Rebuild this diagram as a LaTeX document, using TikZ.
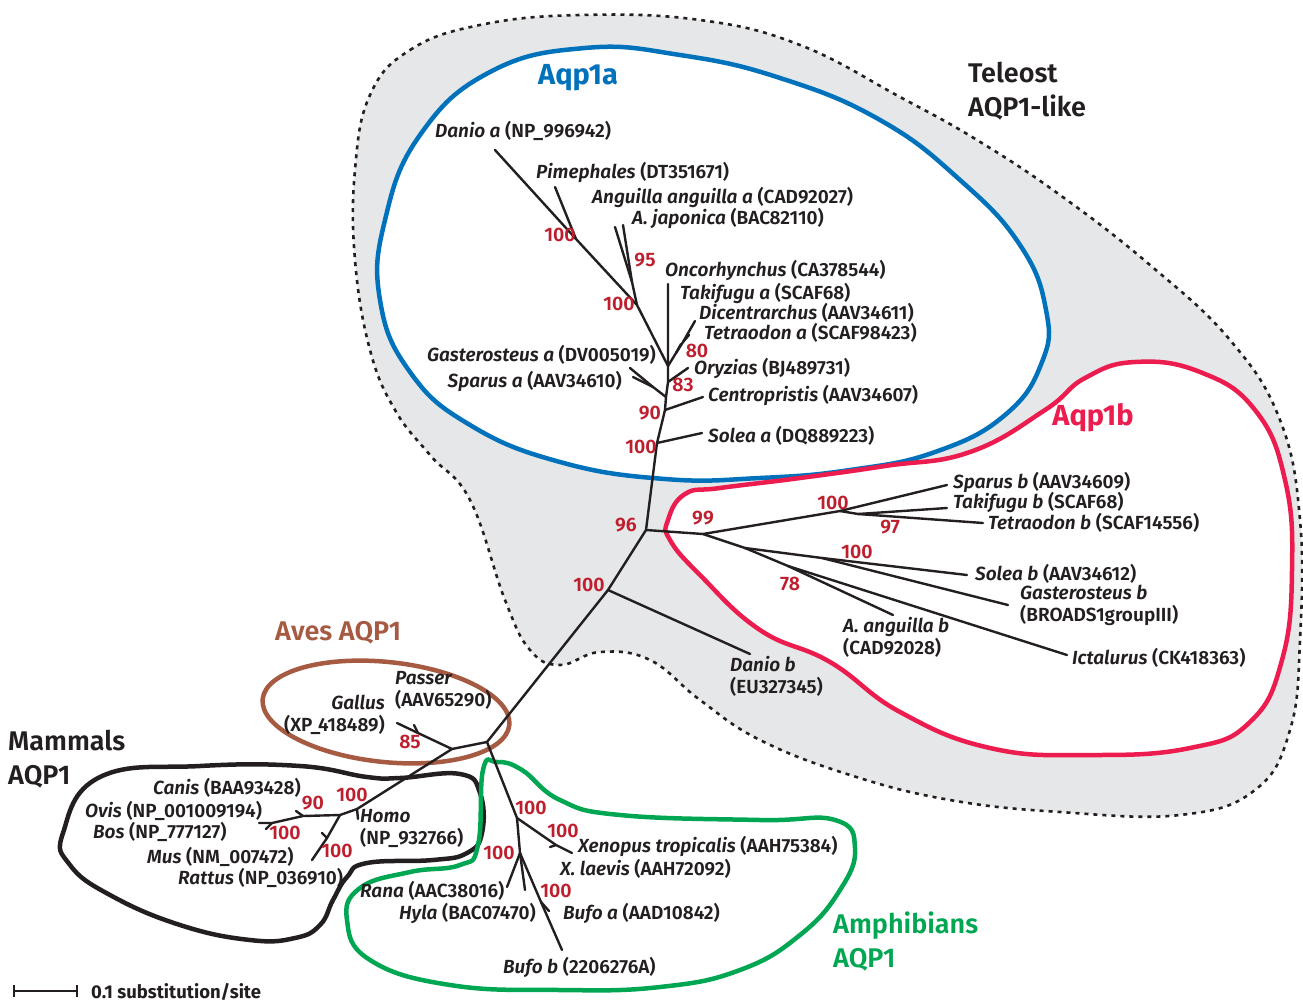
\documentclass[tikz,border=0pt]{standalone}
\usepackage{fontspec}
\setmainfont{Fira Sans}[UprightFont={* SemiBold},ItalicFont={* SemiBold Italic},BoldFont={* Bold},BoldItalicFont={* Bold Italic}]
\definecolor{ink}{HTML}{231F20}
\definecolor{bootred}{HTML}{BE1E2D}
\definecolor{aqpblue}{HTML}{0072BC}
\definecolor{aqpred}{HTML}{EC1C4F}
\definecolor{avesbrown}{HTML}{A65A42}
\definecolor{ampgreen}{HTML}{00A651}
\definecolor{telgray}{HTML}{E6E7E8}
\newcommand{\tx}[2]{\textit{#1} (#2)}
\tikzset{
  branch/.style={line width=2.4pt, line cap=round, draw=ink},
  taxlbl/.style={inner sep=0pt, text=ink, font=\fontsize{19}{22}\selectfont, align=left},
  boot/.style={inner sep=0pt, text=bootred, font=\fontsize{19.5}{22}\selectfont},
  grplbl/.style={inner sep=0pt, font=\fontsize{27}{34}\selectfont, align=left},
  clade/.style={line width=4.5pt, smooth cycle, tension=0.75}
}
\begin{document}
\begin{tikzpicture}[x=1pt, y=-1pt]
  \useasboundingbox (0,0) rectangle (1303,1004);

  % Teleost AQP1-like area
  \filldraw[fill=telgray, draw=ink, line width=2.6pt, dash pattern=on 4pt off 5pt]
    plot[smooth cycle, tension=0.7] coordinates {(370,95) (410,50) (480,25) (580,15) (700,20) (800,45) (900,97) (977,140) (1060,195) (1150,265) (1230,340) (1280,420) (1300,520) (1300,640) (1290,730) (1255,790) (1180,815) (1060,812) (950,800) (850,775) (760,740) (700,700) (650,660) (600,652) (560,665) (530,650) (505,600) (470,500) (430,455) (395,410) (370,350) (355,260) (355,170)};

  % clade outlines
  \filldraw[clade, draw=aqpblue, fill=white] plot coordinates {(585,48) (680,55) (780,78) (880,120) (960,180) (1020,245) (1046,310) (1042,362) (1005,415) (935,452) (850,470) (760,478) (665,479) (560,462) (470,425) (410,372) (380,300) (385,220) (420,135) (490,72)};
  \filldraw[clade, draw=aqpred, fill=white] plot coordinates {(668,520) (685,494) (720,488) (800,478) (885,466) (970,452) (1045,410) (1085,378) (1135,362) (1200,372) (1255,410) (1285,480) (1292,570) (1282,660) (1250,722) (1190,748) (1090,755) (990,748) (900,712) (830,662) (760,630) (700,575) (670,540)};
  \draw[line width=4.5pt, draw=avesbrown, rotate around={-6:(386,712)}] (386,712) ellipse [x radius=124pt, y radius=50pt];
  \draw[clade, draw=ink] plot coordinates {(100,777) (200,766) (300,766) (367,777) (400,778) (460,774) (480,793) (482,833) (467,853) (433,860) (367,863) (347,877) (333,900) (320,925) (295,938) (250,940) (180,925) (110,895) (70,865) (63,833)};
  \draw[clade, draw=ampgreen] plot coordinates {(483,770) (497,762) (522,770) (560,800) (620,815) (760,820) (835,820) (855,848) (840,890) (800,935) (740,970) (660,987) (560,990) (450,985) (370,960) (347,920) (360,888) (410,872) (460,865) (478,845)};

  % backbone
  \coordinate (root) at (487,742);
  \coordinate (nTel) at (608,590);
  \coordinate (nFish) at (646,530);
  \coordinate (tDaniob) at (750,654);
  \coordinate (nAmn) at (452,749);
  \draw[branch] (root) -- (nTel) -- (nFish);
  \draw[branch] (nTel) -- (tDaniob);
  \draw[branch] (root) -- (nAmn);

  % birds
  \coordinate (nAves) at (418,733);
  \coordinate (tGallus) at (397,723);
  \coordinate (tPasser) at (414,725);
  \draw[branch] (nAmn) -- (nAves) -- (tGallus);
  \draw[branch] (nAves) -- (tPasser);

  % mammals
  \coordinate (nMam) at (357,809);
  \coordinate (tHomo) at (358,819);
  \coordinate (nMam2) at (340,815);
  \coordinate (nCan) at (303,816);
  \coordinate (tCanis) at (296,811);
  \coordinate (nRum) at (272,823);
  \coordinate (tOvis) at (259,823);
  \coordinate (tBos) at (266,829);
  \coordinate (nRod) at (327,838);
  \coordinate (tMus) at (322,833);
  \coordinate (tRattus) at (312,860);
  \draw[branch] (nAmn) -- (nMam) -- (nMam2) -- (nCan) -- (nRum) -- (tOvis);
  \draw[branch] (nMam) -- (tHomo);
  \draw[branch] (nCan) -- (tCanis);
  \draw[branch] (nRum) -- (tBos);
  \draw[branch] (nMam2) -- (nRod) -- (tRattus);
  \draw[branch] (nRod) -- (tMus);

  % amphibians
  \coordinate (nAmp) at (517,818);
  \coordinate (nXen) at (556,845);
  \coordinate (tXtrop) at (572,853);
  \coordinate (tXlae) at (550,847);
  \coordinate (nFrog) at (520,853);
  \coordinate (tRana) at (507,887);
  \coordinate (tHyla) at (525,890);
  \coordinate (nBufo) at (541,902);
  \coordinate (tBufoa) at (549,911);
  \coordinate (tBufob) at (562,950);
  \draw[branch] (root) -- (nAmp) -- (nXen) -- (tXtrop);
  \draw[branch] (nXen) -- (tXlae);
  \draw[branch] (nAmp) -- (nFrog) -- (tRana);
  \draw[branch] (nFrog) -- (tHyla);
  \draw[branch] (nFrog) -- (nBufo) -- (tBufob);
  \draw[branch] (nBufo) -- (tBufoa);

  % Aqp1a
  \coordinate (a1) at (657,443);
  \coordinate (a2) at (665,410);
  \coordinate (a3) at (666,397);
  \coordinate (a4) at (668,382);
  \coordinate (a5) at (668,366);
  \coordinate (nGS) at (653,387);
  \coordinate (f1) at (676,353);
  \coordinate (f2) at (683,342);
  \coordinate (p1) at (637,305);
  \coordinate (p2) at (576,239);
  \coordinate (p3) at (632,282);
  \coordinate (tSoleaa) at (702,433);
  \coordinate (tCentro) at (703,397);
  \coordinate (tGasta) at (630,368);
  \coordinate (tSparusa) at (633,377);
  \coordinate (tOryz) at (688,368);
  \coordinate (tOnco) at (668,284);
  \coordinate (tDicen) at (695,321);
  \coordinate (tTakia) at (681,344);
  \coordinate (tTetra) at (689,335);
  \coordinate (tDanioa) at (495,150);
  \coordinate (tPime) at (555,187);
  \coordinate (tAngua) at (615,227);
  \coordinate (tJapon) at (623,225);
  \draw[branch] (nFish) -- (a1) -- (a2) -- (a3) -- (a4) -- (a5) -- (tOnco);
  \draw[branch] (a1) -- (tSoleaa);
  \draw[branch] (a2) -- (tCentro);
  \draw[branch] (a3) -- (nGS) -- (tGasta);
  \draw[branch] (nGS) -- (tSparusa);
  \draw[branch] (a4) -- (tOryz);
  \draw[branch] (a5) -- (f1) -- (f2) -- (tDicen);
  \draw[branch] (f1) -- (tTakia);
  \draw[branch] (f2) -- (tTetra);
  \draw[branch] (a5) -- (p1) -- (p2) -- (tDanioa);
  \draw[branch] (p2) -- (tPime);
  \draw[branch] (p1) -- (p3) -- (tAngua);
  \draw[branch] (p3) -- (tJapon);

  % Aqp1b
  \coordinate (b0) at (703,534);
  \coordinate (b1) at (840,511);
  \coordinate (b2) at (858,514);
  \coordinate (b3) at (745,548);
  \coordinate (b4) at (822,558);
  \coordinate (b5) at (788,566);
  \coordinate (tSparusb) at (947,485);
  \coordinate (tTakib) at (947,508);
  \coordinate (tTetrb) at (983,523);
  \coordinate (tSoleab) at (967,575);
  \coordinate (tGastb) at (1008,605);
  \coordinate (tAngub) at (893,615);
  \coordinate (tIctal) at (1067,655);
  \draw[branch] (nFish) -- (b0) -- (b1) -- (tSparusb);
  \draw[branch] (b1) -- (b2) -- (tTakib);
  \draw[branch] (b2) -- (tTetrb);
  \draw[branch] (b0) -- (b3) -- (b4) -- (tSoleab);
  \draw[branch] (b4) -- (tGastb);
  \draw[branch] (b3) -- (b5) -- (tAngub);
  \draw[branch] (b5) -- (tIctal);

  % taxon labels
  \node[taxlbl, anchor=west] (lDanioa) at (435,131) {\tx{Danio a}{NP\_996942}};
  \node[taxlbl, anchor=west] (lPime) at (536,172) {\tx{Pimephales}{DT351671}};
  \node[taxlbl, anchor=west] (lAngua) at (592,197) {\tx{Anguilla anguilla a}{CAD92027}};
  \node[taxlbl, anchor=west] (lJapon) at (632,218) {\tx{A. japonica}{BAC82110}};
  \node[taxlbl, anchor=west] (lOnco) at (665,270) {\tx{Oncorhynchus}{CA378544}};
  \node[taxlbl, anchor=west] (lTakia) at (680,293) {\tx{Takifugu a}{SCAF68}};
  \node[taxlbl, anchor=west] (lDicen) at (699,313) {\tx{Dicentrarchus}{AAV34611}};
  \node[taxlbl, anchor=west] (lTetra) at (704,333) {\tx{Tetraodon a}{SCAF98423}};
  \node[taxlbl, anchor=east] (lGasta) at (656,355) {\tx{Gasterosteus a}{DV005019}};
  \node[taxlbl, anchor=east] (lSparusa) at (622,381) {\tx{Sparus a}{AAV34610}};
  \node[taxlbl, anchor=west] (lOryz) at (694,368) {\tx{Oryzias}{BJ489731}};
  \node[taxlbl, anchor=west] (lCentro) at (708,395) {\tx{Centropristis}{AAV34607}};
  \node[taxlbl, anchor=west] (lSoleaa) at (708,436) {\tx{Solea a}{DQ889223}};
  \node[taxlbl, anchor=west] (lSparusb) at (953,482) {\tx{Sparus b}{AAV34609}};
  \node[taxlbl, anchor=west] (lTakib) at (953,502) {\tx{Takifugu b}{SCAF68}};
  \node[taxlbl, anchor=west] (lTetrb) at (988,523) {\tx{Tetraodon b}{SCAF14556}};
  \node[taxlbl, anchor=west] (lSoleab) at (975,574) {\tx{Solea b}{AAV34612}};
  \node[taxlbl, anchor=north west] (lGastb) at (1020,585) {\textit{Gasterosteus b}\\(BROADS1groupIII)};
  \node[taxlbl, anchor=north west] (lAngub) at (843,617) {\textit{A. anguilla b}\\(CAD92028)};
  \node[taxlbl, anchor=west] (lIctal) at (1072,658) {\tx{Ictalurus}{CK418363}};
  \node[taxlbl, anchor=north west] (lDaniob) at (730,656) {\textit{Danio b}\\(EU327345)};
  \node[taxlbl, anchor=north west] (lPasser) at (395,671) {\textit{Passer}\\(AAV65290)};
  \node[taxlbl, anchor=north east, align=right] (lGallus) at (385,695) {\textit{Gallus}\\(XP\_418489)};
  \node[taxlbl, anchor=west] (lCanis) at (153,788) {\tx{Canis}{BAA93428}};
  \node[taxlbl, anchor=west] (lOvis) at (85,811) {\tx{Ovis}{NP\_001009194}};
  \node[taxlbl, anchor=west] (lBos) at (93,832) {\tx{Bos}{NP\_777127}};
  \node[taxlbl, anchor=west] (lMus) at (147,857) {\tx{Mus}{NM\_007472}};
  \node[taxlbl, anchor=west] (lRattus) at (178,878) {\tx{Rattus}{NP\_036910}};
  \node[taxlbl, anchor=north west] (lHomo) at (360,809) {\textit{Homo}\\(NP\_932766)};
  \node[taxlbl, anchor=west] (lXtrop) at (578,846) {\tx{Xenopus tropicalis}{AAH75384}};
  \node[taxlbl, anchor=west] (lXlae) at (560,869) {\tx{X. laevis}{AAH72092}};
  \node[taxlbl, anchor=west] (lRana) at (360,891) {\tx{Rana}{AAC38016}};
  \node[taxlbl, anchor=west] (lHyla) at (399,913) {\tx{Hyla}{BAC07470}};
  \node[taxlbl, anchor=west] (lBufoa) at (563,913) {\tx{Bufo a}{AAD10842}};
  \node[taxlbl, anchor=west] (lBufob) at (503,967) {\tx{Bufo b}{2206276A}};

  % bootstrap values
  \node[boot] (bP2) at (560,235) {100};
  \node[boot] (bP3) at (645,260) {95};
  \node[boot] (bP1) at (619,304) {100};
  \node[boot] (bF1) at (697,351) {80};
  \node[boot] (bA4) at (683,385) {83};
  \node[boot] (bA2) at (650,413) {90};
  \node[boot] (bA1) at (641,447) {100};
  \node[boot] (bFish) at (626,525) {96};
  \node[boot] (bTel) at (589,585) {100};
  \node[boot] (bB0) at (703,518) {99};
  \node[boot] (bB1) at (833,503) {100};
  \node[boot] (bB2) at (890,527) {97};
  \node[boot] (bB4) at (857,552) {100};
  \node[boot] (bB5) at (790,584) {78};
  \node[boot] (bAves) at (410,742) {85};
  \node[boot] (bCan) at (313,803) {90};
  \node[boot] (bMam) at (352,795) {100};
  \node[boot] (bRum) at (285,833) {100};
  \node[boot] (bRod) at (337,851) {100};
  \node[boot] (bAmp) at (531,808) {100};
  \node[boot] (bXen) at (563,831) {100};
  \node[boot] (bFrog) at (499,853) {100};
  \node[boot] (bBufo) at (556,891) {100};

  % group labels
  \node[grplbl, text=aqpblue, font=\fontsize{29}{34}\bfseries] (gAqpa) at (578,78) {Aqp1a};
  \node[grplbl, text=aqpred, font=\fontsize{29}{34}\bfseries] (gAqpb) at (1093,418) {Aqp1b};
  \node[grplbl, text=ink, anchor=north west] (gTel) at (968,62) {Teleost\\AQP1-like};
  \node[grplbl, text=avesbrown, anchor=west] (gAves) at (275,633) {Aves AQP1};
  \node[grplbl, text=ink, anchor=north west] (gMam) at (8,730) {Mammals\\AQP1};
  \node[grplbl, text=ampgreen, anchor=north west] (gAmp) at (833,912) {Amphibians\\AQP1};

  % scale bar
  \coordinate (sbL) at (14,991);
  \coordinate (sbR) at (77,991);
  \draw[line width=1.8pt, draw=ink] (sbL) -- (sbR);
  \draw[line width=1.8pt, draw=ink] ([yshift=-6pt]sbL) -- ([yshift=6pt]sbL);
  \draw[line width=1.8pt, draw=ink] ([yshift=-6pt]sbR) -- ([yshift=6pt]sbR);
  \node[inner sep=0pt, anchor=west, text=ink, font=\fontsize{18.5}{20}\bfseries] (lScale) at (91,992) {0.1 substitution/site};
\end{tikzpicture}
\end{document}
